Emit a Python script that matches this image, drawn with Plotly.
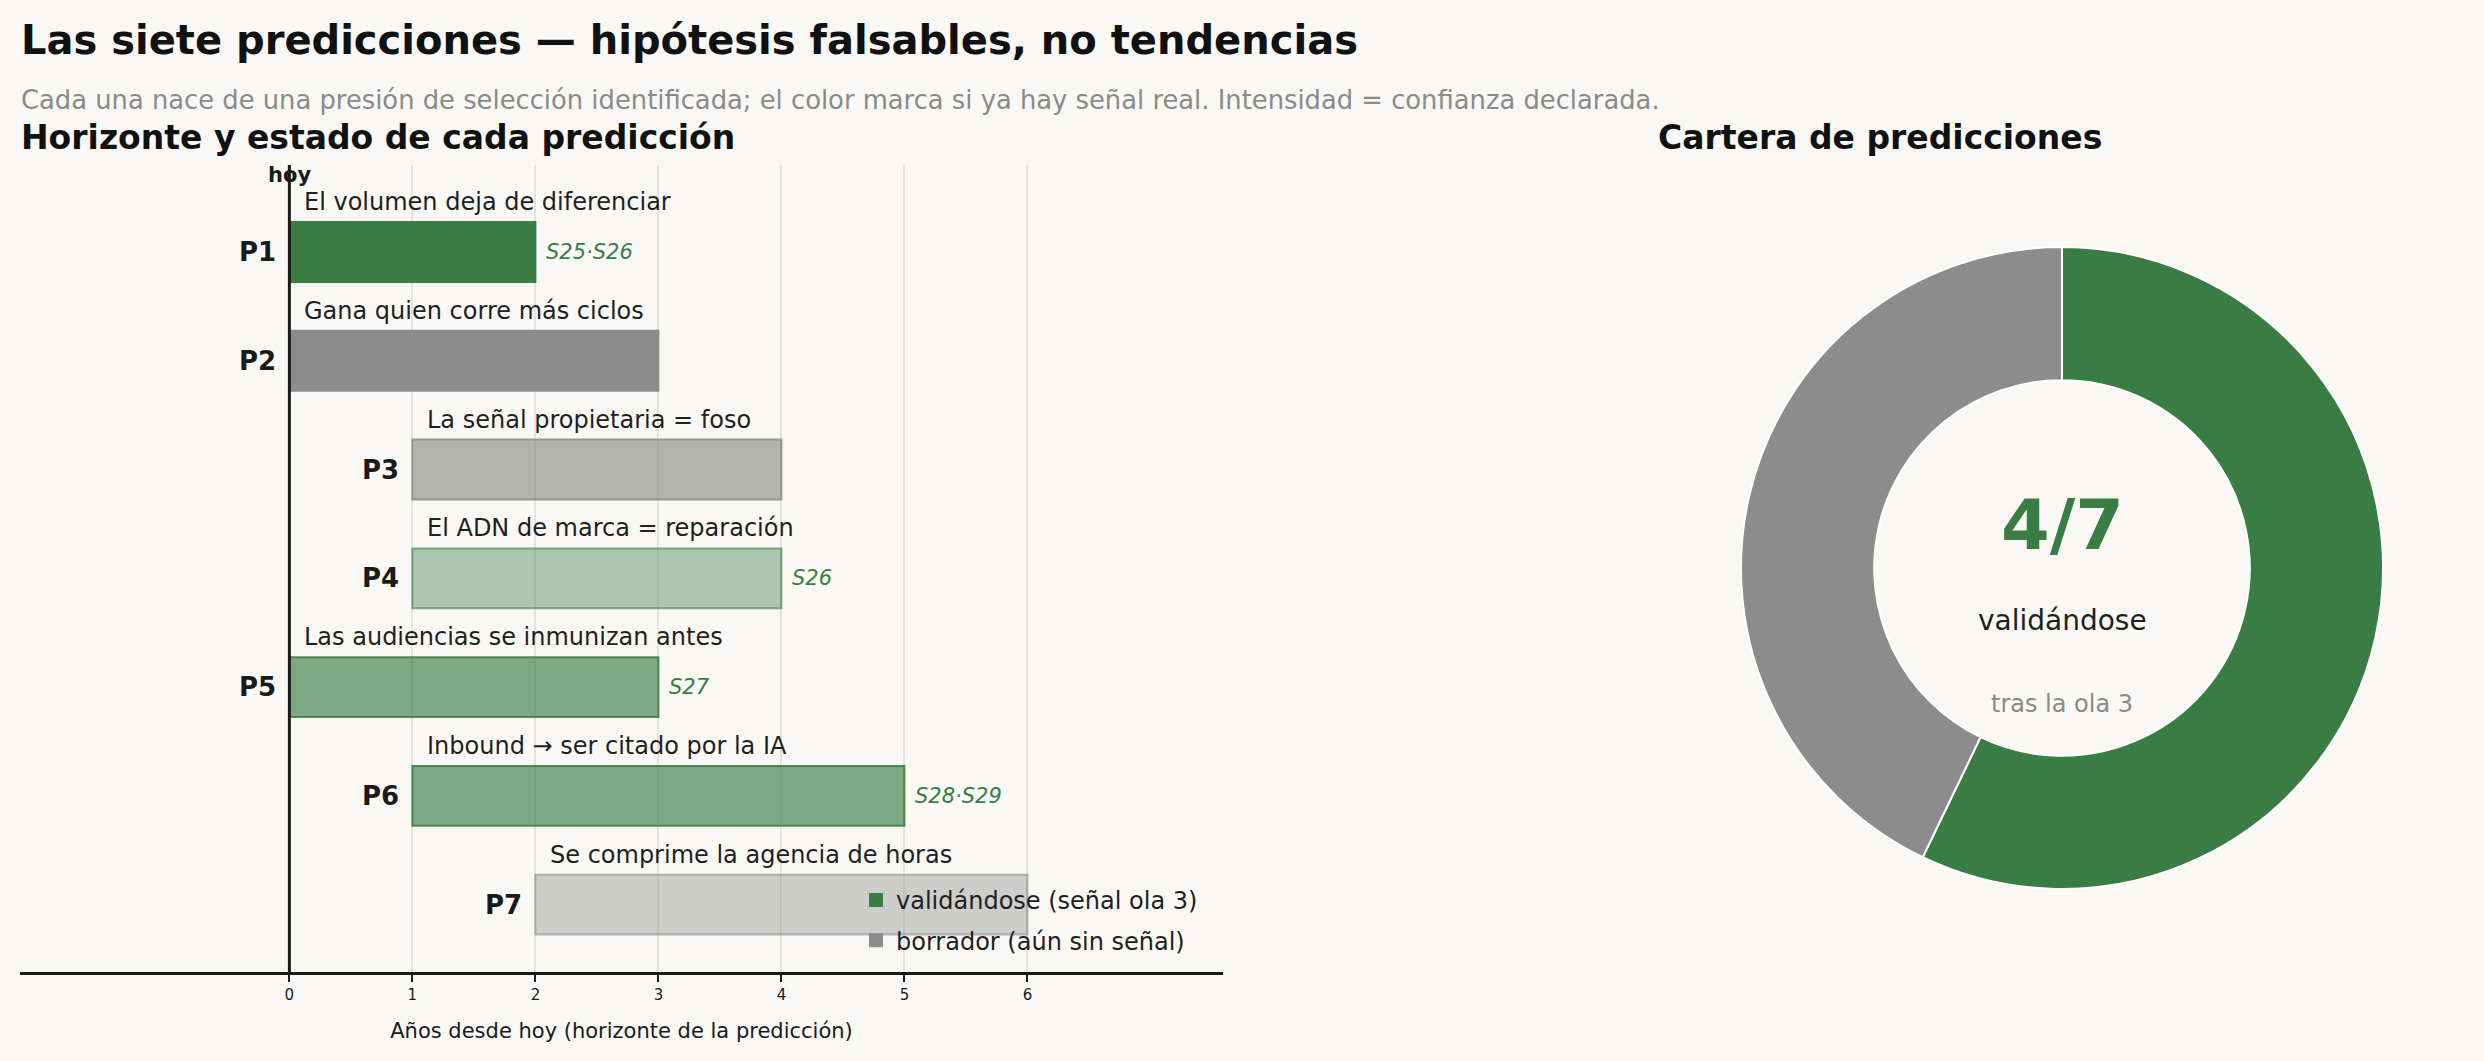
import plotly.graph_objects as go

# predicciones: horizonte (años desde hoy), estado y confianza declarada
pred_ids = ["P1", "P2", "P3", "P4", "P5", "P6", "P7"]
pred_text = ["El volumen deja de diferenciar",
             "Gana quien corre más ciclos",
             "La señal propietaria = foso",
             "El ADN de marca = reparación",
             "Las audiencias se inmunizan antes",
             "Inbound → ser citado por la IA",
             "Se comprime la agencia de horas"]
start_year = [0, 0, 1, 1, 0, 1, 2]
end_year = [2, 3, 4, 4, 3, 5, 6]
status = ["valida", "borrador", "borrador", "valida", "valida", "valida", "borrador"]
confidence = ["alta", "alta", "media", "baja", "media", "media", "baja"]
signals = ["S25·S26", "", "", "S26", "S27", "S28·S29", ""]
x_ticks = [0, 1, 2, 3, 4, 5, 6]

GREEN = (58, 125, 68)
GRAY = (140, 140, 140)
BG = "#f9f8f5"
FONT = "DejaVu Sans"
alpha_of = {"alta": 1.0, "media": 0.65, "baja": 0.4}
names = {"valida": "validándose (señal ola 3)", "borrador": "borrador (aún sin señal)"}
base_col = {"valida": GREEN, "borrador": GRAY}


def rgba(c, a):
    return "rgba(%d,%d,%d,%.2f)" % (c[0], c[1], c[2], a)


W, H = 2484, 1061
fig = go.Figure()

# barras por estado
for st in ["valida", "borrador"]:
    idx = [i for i in range(len(pred_ids)) if status[i] == st]
    fills = [rgba(base_col[st], alpha_of[confidence[i]]) for i in idx]
    edges = [rgba(base_col[st], min(1.0, alpha_of[confidence[i]] + 0.2)) for i in idx]
    fig.add_trace(go.Bar(
        y=idx,
        x=[end_year[i] - start_year[i] for i in idx],
        base=[start_year[i] for i in idx],
        orientation="h", width=0.55,
        marker=dict(color=fills, line=dict(color=edges, width=2)),
        name=names[st], legendgroup=st,
        xaxis="x", yaxis="y",
    ))

# donut
n_valid = status.count("valida")
n_total = len(status)
fig.add_trace(go.Pie(
    values=[n_valid, n_total - n_valid],
    labels=["validándose", "borrador"],
    hole=0.585, sort=False, direction="clockwise",
    marker=dict(colors=[rgba(GREEN, 1), rgba(GRAY, 1)], line=dict(color="white", width=2)),
    textinfo="none", showlegend=False,
    domain=dict(x=[(2062 - 321) / W, (2062 + 321) / W], y=[1 - (568 + 321) / H, 1 - (568 - 321) / H]),
))

ann = []
for i in range(len(pred_ids)):
    ann.append(dict(x=start_year[i] - 0.09, y=i, xref="x", yref="y", text="<b>" + pred_ids[i] + "</b>",
                    xanchor="right", yanchor="middle", showarrow=False,
                    font=dict(size=26, color="#1a1a1a")))
    ann.append(dict(x=start_year[i] + 0.1, y=i - 0.46, xref="x", yref="y", text=pred_text[i],
                    xanchor="left", yanchor="middle", showarrow=False,
                    font=dict(size=24, color="#1f1f1f")))
    if signals[i]:
        ann.append(dict(x=end_year[i] + 0.07, y=i, xref="x", yref="y", text="<i>" + signals[i] + "</i>",
                        xanchor="left", yanchor="middle", showarrow=False,
                        font=dict(size=21, color=rgba(GREEN, 1))))

ann.append(dict(x=0, y=-0.71, xref="x", yref="y", text="<b>hoy</b>", showarrow=False,
                xanchor="center", yanchor="middle", font=dict(size=21, color="#1a1a1a")))

# titulos
ann.append(dict(x=19 / W, y=1 - 40 / H, xref="paper", yref="paper", xanchor="left", yanchor="middle",
                text="<b>Las siete predicciones — hipótesis falsables, no tendencias</b>", showarrow=False,
                font=dict(size=40, color="#111111")))
ann.append(dict(x=19 / W, y=1 - 100 / H, xref="paper", yref="paper", xanchor="left", yanchor="middle",
                text="Cada una nace de una presión de selección identificada; el color marca si ya hay señal real. "
                     "Intensidad = confianza declarada.", showarrow=False,
                font=dict(size=25.8, color="#8a8a8a")))
ann.append(dict(x=19 / W, y=1 - 137 / H, xref="paper", yref="paper", xanchor="left", yanchor="middle",
                text="<b>Horizonte y estado de cada predicción</b>", showarrow=False,
                font=dict(size=33, color="#111111")))
ann.append(dict(x=1880 / W, y=1 - 137 / H, xref="paper", yref="paper", xanchor="center", yanchor="middle",
                text="<b>Cartera de predicciones</b>", showarrow=False,
                font=dict(size=33, color="#111111")))

# centro del donut
cx = 2062 / W
ann.append(dict(x=cx, y=1 - 525 / H, xref="paper", yref="paper", text="<b>%d/%d</b>" % (n_valid, n_total),
                xanchor="center", yanchor="middle",
                showarrow=False, font=dict(size=70, color=rgba(GREEN, 1))))
ann.append(dict(x=cx, y=1 - 620 / H, xref="paper", yref="paper", text="validándose",
                xanchor="center", yanchor="middle",
                showarrow=False, font=dict(size=28, color="#1f1f1f")))
ann.append(dict(x=cx, y=1 - 704 / H, xref="paper", yref="paper", text="tras la ola 3",
                xanchor="center", yanchor="middle",
                showarrow=False, font=dict(size=24, color="#8a8a8a")))

fig.add_shape(type="line", x0=0, x1=0, xref="x", y0=0, y1=1, yref="y domain",
              line=dict(color="#1a1a1a", width=3), layer="above")

fig.update_layout(
    width=W, height=H,
    margin=dict(l=0, r=0, t=0, b=0),
    paper_bgcolor=BG, plot_bgcolor=BG,
    font=dict(family=FONT, color="#1f1f1f"),
    barmode="overlay",
    annotations=ann,
    showlegend=True,
    legend=dict(x=856 / W, y=1 - 878 / H, xanchor="left", yanchor="top",
                bgcolor="rgba(0,0,0,0)", font=dict(size=24, color="#1f1f1f"),
                traceorder="grouped", tracegroupgap=6),
    xaxis=dict(domain=[20 / W, 1223 / W], range=[-2.19, 7.59],
               tickvals=x_ticks, ticks="outside", ticklen=7, tickwidth=2, tickcolor="#1a1a1a",
               tickfont=dict(size=15, color="#1a1a1a"),
               showline=True, linecolor="#1a1a1a", linewidth=2.5,
               showgrid=True, gridcolor="#e4e2dd", gridwidth=2, zeroline=False,
               title=dict(text="Años desde hoy (horizonte de la predicción)", font=dict(size=21, color="#1a1a1a"),
                          standoff=21)),
    yaxis=dict(domain=[1 - 972 / H, 1 - 165 / H], range=[6.62, -0.8],
               showticklabels=False, ticks="", showgrid=False, zeroline=False, showline=False),
)

fig.write_html("out.html", config={"displayModeBar": False},
               post_script="document.body.style.margin='0';document.body.style.overflow='hidden';")
